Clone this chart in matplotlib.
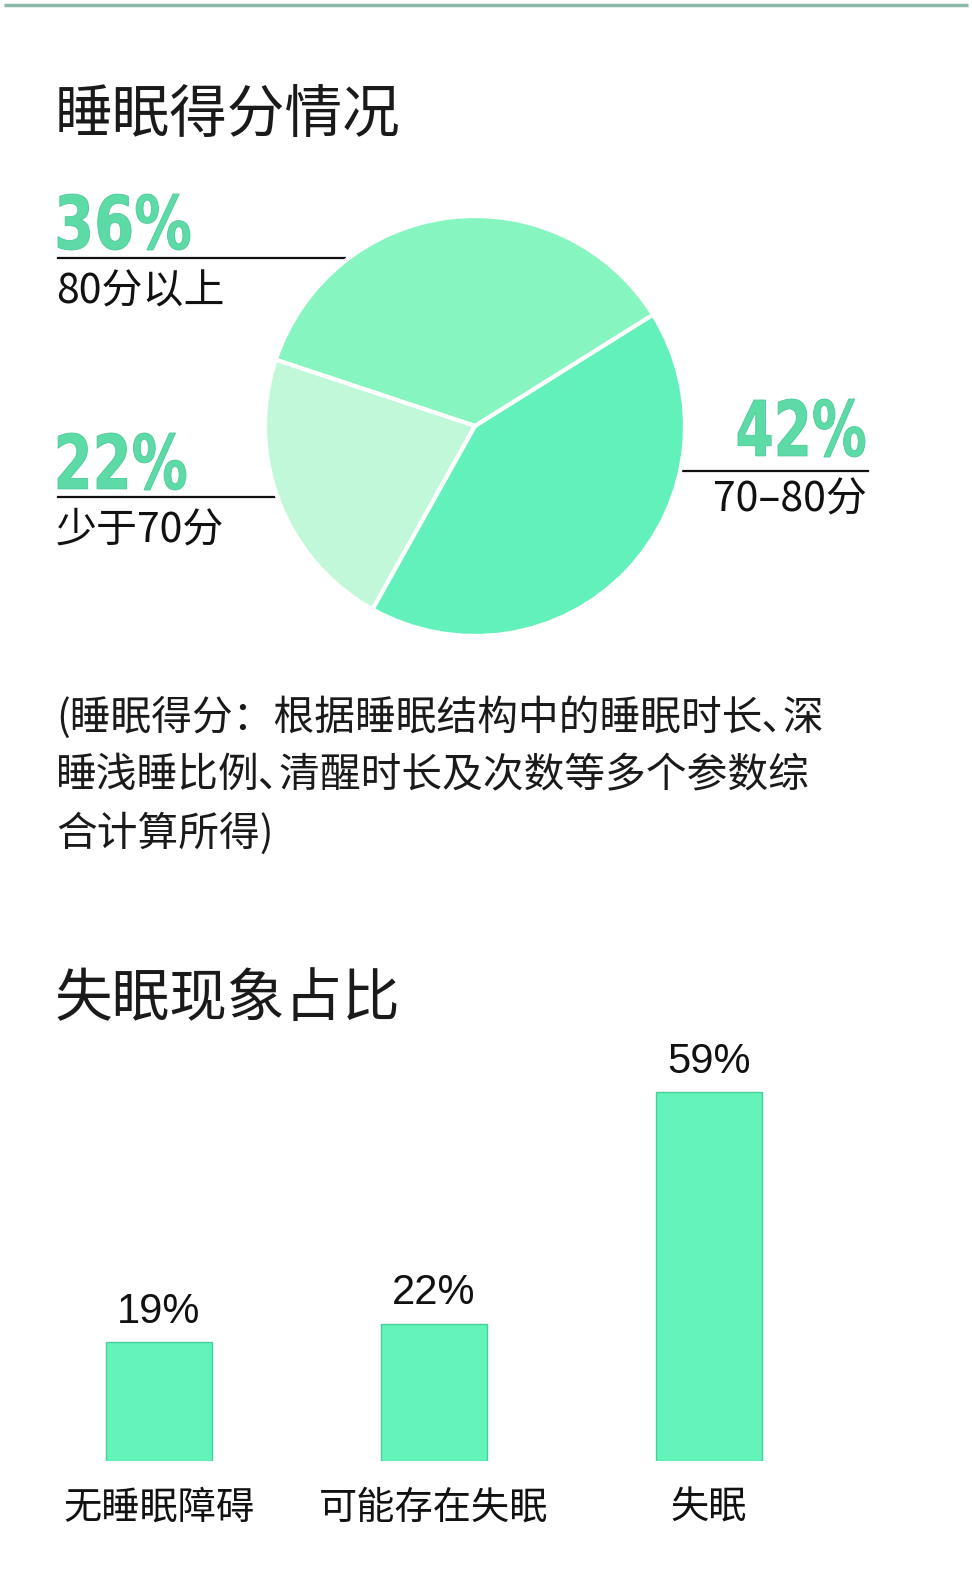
import matplotlib.pyplot as plt
from matplotlib.textpath import TextPath
from matplotlib.patches import PathPatch
from matplotlib.transforms import Affine2D
from matplotlib.font_manager import FontProperties

plt.rcParams['font.family'] = ['Noto Sans CJK SC', 'DejaVu Sans']

# 睡眠得分情况 (pie)
score_labels = ['80分以上', '少于70分', '70–80分']
score_values = [36, 22, 42]
score_pcts = ['36%', '22%', '42%']
score_colors = ['#86f5bf', '#c0f8d9', '#62f1bb']

# 失眠现象占比 (bars)
insomnia_labels = ['无睡眠障碍', '可能存在失眠', '失眠']
insomnia_values = [19, 22, 59]

W, H = 972, 1575
fig = plt.figure(figsize=(W / 100, H / 100), dpi=100)

# overlay axes in pixel coords for text and leader lines
bg = fig.add_axes([0, 0, 1, 1])
bg.set_xlim(0, W)
bg.set_ylim(H, 0)
bg.axis('off')

bg.plot([4, 968], [5, 5], color='#8db7ab', lw=2.5, solid_capstyle='butt')

title_kw = dict(fontsize=41.5, fontweight='medium', color='#1a1a1a', va='center', ha='left')
bg.text(55, 116, '睡眠得分情况', **title_kw)
bg.text(55, 1000, '失眠现象占比', **title_kw)

# pie
cx, cy, r = 475, 426, 210
pax = fig.add_axes([(cx - r) / W, 1 - (cy + r) / H, 2 * r / W, 2 * r / H])
pax.pie(score_values, colors=score_colors, startangle=32, counterclock=True,
        wedgeprops=dict(edgecolor='white', linewidth=3))
pax.set_xlim(-1.0, 1.0)
pax.set_ylim(-1.0, 1.0)
pax.set_aspect('equal')

bold_fp = FontProperties(family='DejaVu Sans', weight='bold')


def big_pct(s, x0, x1, y_top, y_bot):
    # condensed heavy number squeezed into its box
    tp = TextPath((0, 0), s, size=100, prop=bold_fp)
    ext = tp.get_extents()
    sx = (x1 - x0) / ext.width
    sy = (y_bot - y_top) / ext.height
    tr = Affine2D().translate(-ext.x0, -ext.y0).scale(sx, -sy).translate(x0, y_bot)
    bg.add_patch(PathPatch(tr.transform_path(tp), fc='#5cdba7', ec='#4cc99a', lw=0.6))


lab_kw = dict(fontsize=29.5, color='#111111', va='center')

# 36%
big_pct(score_pcts[0], 58, 190, 194, 250)
bg.plot([58, 345], [258, 258], color='#111111', lw=1.6)
bg.text(56, 292, score_labels[0], ha='left', **lab_kw)
# 22%
big_pct(score_pcts[1], 58, 186, 433, 490)
bg.plot([58, 276], [497, 497], color='#111111', lw=1.6)
bg.text(56, 530, score_labels[1], ha='left', **lab_kw)
# 42%
big_pct(score_pcts[2], 738, 865, 399, 457)
bg.plot([680, 868], [471, 471], color='#111111', lw=1.6)
bg.text(867, 500, score_labels[2], ha='right', **lab_kw)

note = ['(睡眠得分：根据睡眠结构中的睡眠时长､深',
        '睡浅睡比例､清醒时长及次数等多个参数综',
        '合计算所得)']
for i, line in enumerate(note):
    bg.text(56, 718 + i * 58, line, fontsize=29.3, color='#1a1a1a', va='center', ha='left')

# bars
x0px, unit = 159 - 137.5, 275
bottom, top = 1461, 1461 - 60 * 6.25
bax = fig.add_axes([x0px / W, 1 - bottom / H, 3 * unit / W, (bottom - top) / H])
xs = range(len(insomnia_values))
bax.bar(xs, insomnia_values, width=0.385, color='#62f4b9', edgecolor='#48cf9e', linewidth=1)
bax.set_xlim(-0.5, 2.5)
bax.set_ylim(0, 60)
for x, v in zip(xs, insomnia_values):
    bax.text(x, v + 1.6, f'{v}%', ha='center', va='bottom', fontsize=30,
             color='#111111', family=['Liberation Sans', 'DejaVu Sans'])
bax.set_xticks(list(xs))
bax.set_xticklabels(insomnia_labels, fontsize=27.5, color='#111111')
bax.tick_params(axis='x', length=0, pad=20)
bax.set_yticks([])
for s in bax.spines.values():
    s.set_visible(False)
bax.patch.set_alpha(0)

fig.savefig('out.png', dpi=100, facecolor='white')
